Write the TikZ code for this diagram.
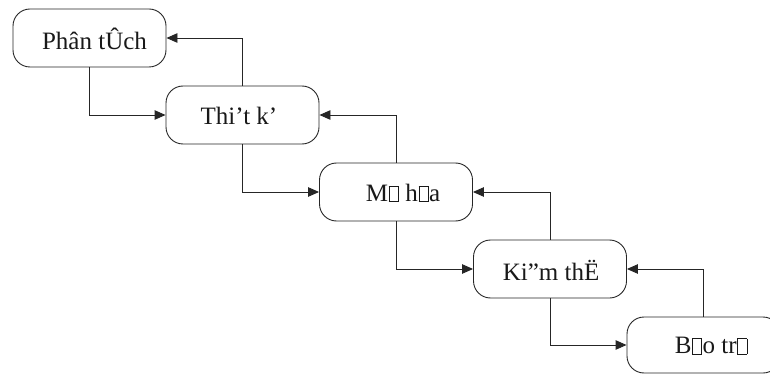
\documentclass[tikz,border=0pt]{standalone}
\usepackage{fontspec}
\setmainfont{Liberation Serif}
\usetikzlibrary{arrows.meta}
% hollow square standing in for an unrenderable glyph
\newcommand{\nochar}{{\setlength{\fboxsep}{0pt}\setlength{\fboxrule}{0.6pt}\hspace{0.03em}\fbox{\rule{0.34em}{0pt}\rule{0pt}{0.6em}}\hspace{0.03em}}}
\tikzset{
  stage/.style={draw=black!85, line width=0.9pt, rounded corners=17pt,
    minimum width=153pt, minimum height=58pt, inner sep=0pt},
  lbl/.style={inner sep=0pt, font=\fontsize{25}{30}\selectfont, text=black!90},
  flow/.style={draw=black!85, line width=0.9pt, -{Triangle[length=11pt,width=9.5pt]}}
}
\begin{document}
\begin{tikzpicture}[x=1pt,y=-1pt]
\useasboundingbox (0,0) rectangle (770,374);
\clip (0,0) rectangle (770,374);
% process stages
\node[stage] (b1) at (89.5,38) {};
\node[stage] (b2) at (242.5,115) {};
\node[stage] (b3) at (396,192) {};
\node[stage] (b4) at (550,269) {};
\node[stage, minimum height=56pt] (b5) at (703.5,345) {};
% stage captions
\node[lbl] (t1) at (94.5,39) {Phân tÛch};
\node[lbl] (t2) at (239,116) {Thi’t k’};
\node[lbl] (t3) at (403,193) {M\nochar\ h\nochar a};
\node[lbl] (t4) at (551,270) {Ki”m thË};
\node[lbl] (t5) at (711,346) {B\nochar o tr\nochar};
% forward flow
\draw[flow] (b1.south) |- (b2.west);
\draw[flow] (b2.south) |- (b3.west);
\draw[flow] (b3.south) |- (b4.west);
\draw[flow] (b4.south) |- (b5.west);
% feedback flow
\draw[flow] (b2.north) |- (b1.east);
\draw[flow] (b3.north) |- (b2.east);
\draw[flow] (b4.north) |- (b3.east);
\draw[flow] (b5.north) |- (b4.east);
\end{tikzpicture}
\end{document}
